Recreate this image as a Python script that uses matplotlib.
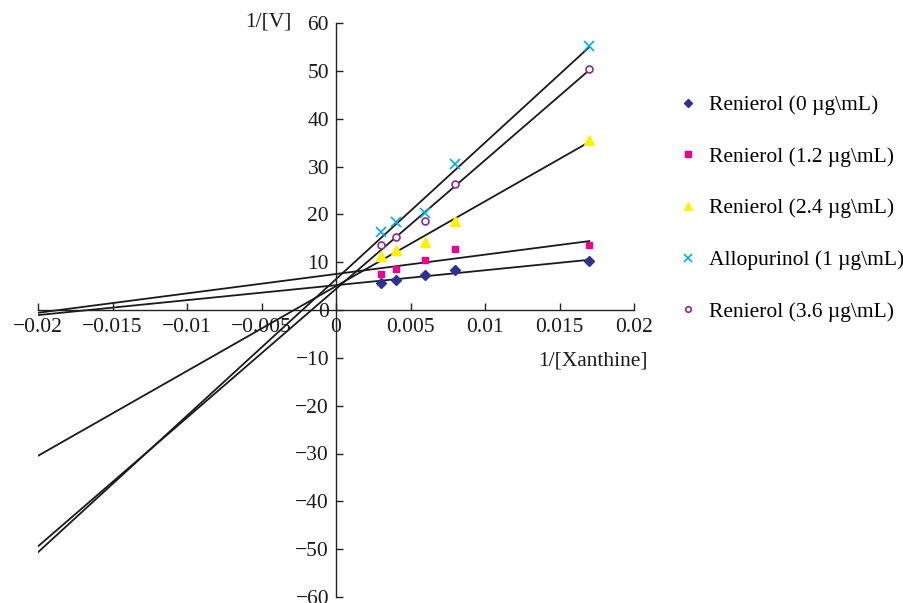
import numpy as np
import matplotlib
matplotlib.use("Agg")
import matplotlib.pyplot as plt
from matplotlib.ticker import FuncFormatter

plt.rcParams['font.family'] = ['Liberation Serif', 'DejaVu Serif']

x_vals = [0.003, 0.004, 0.006, 0.008, 0.017]
series_names = ["Renierol (0 \u00b5g\\mL)", "Renierol (1.2 \u00b5g\\mL)",
                "Renierol (2.4 \u00b5g\\mL)", "Allopurinol (1 \u00b5g\\mL)",
                "Renierol (3.6 \u00b5g\\mL)"]
y_r0 = [5.6, 6.3, 7.3, 8.4, 10.2]
y_r12 = [7.5, 8.6, 10.5, 12.8, 13.6]
y_r24 = [11.3, 12.6, 14.2, 18.6, 35.6]
y_allo = [16.3, 18.4, 20.3, 30.5, 55.2]
y_r36 = [13.6, 15.3, 18.6, 26.4, 50.4]
series = [y_r0, y_r12, y_r24, y_allo, y_r36]

line_x_start = -0.02
line_x_end = 0.017

styles = [
    dict(marker='D', color='#2E3192', markersize=5, mfc='#2E3192', mec='#2E3192'),
    dict(marker='s', color='#EC008C', markersize=5, mfc='#EC008C', mec='#EC008C'),
    dict(marker='^', color='#FFF200', markersize=6.5, mfc='#FFF200', mec='#FFF200'),
    dict(marker='x', color='#00AEEF', markersize=6.5, mfc='#00AEEF', mec='#00AEEF', mew=1.2),
    dict(marker='o', color='#92278F', markersize=5, mfc='white', mec='#92278F', mew=1.2),
]

fig = plt.figure(figsize=(9.04, 6.03), dpi=100)
ax = fig.add_axes([38/904, 1-597/603, (634-38)/904, (597-23)/603])

xs = np.array(x_vals)
handles = []
for name, ys, st in zip(series_names, series, styles):
    h, = ax.plot(xs, ys, linestyle='none', label=name, **st)
    handles.append(h)
    k, b = np.polyfit(xs, np.array(ys), 1)
    lx = np.array([line_x_start, line_x_end])
    ax.plot(lx, k*lx + b, color='#1a1a1a', lw=1.3, zorder=1)

ax.set_xlim(-0.02, 0.02)
ax.set_ylim(-60, 60)
ax.spines['left'].set_position(('data', 0))
ax.spines['bottom'].set_position(('data', 0))
ax.spines['right'].set_visible(False)
ax.spines['top'].set_visible(False)
for s in ('left', 'bottom'):
    ax.spines[s].set_linewidth(1.0)
    ax.spines[s].set_color('#222222')

ax.set_xticks([-0.02, -0.015, -0.01, -0.005, 0, 0.005, 0.01, 0.015, 0.02])
ax.set_yticks(np.arange(-60, 61, 10))
fmt = FuncFormatter(lambda v, p: ('%g' % round(v, 6)).replace('-', '\u2212'))
ax.xaxis.set_major_formatter(fmt)
ax.yaxis.set_major_formatter(fmt)
ax.tick_params(axis='both', direction='in', length=5, width=1.0, labelsize=15.5,
               colors='#222222', labelcolor='#1a1a1a')
ax.tick_params(axis='x', pad=6)
ax.tick_params(axis='y', pad=5)

fig.text(292/904, 1-22/603, "1/[V]", ha='right', va='center', fontsize=15.5, color='#1a1a1a')
fig.text(648/904, 1-361/603, "1/[Xanthine]", ha='right', va='center', fontsize=15.5, color='#1a1a1a')

leg = fig.legend(handles=handles, labels=series_names, loc='upper left',
                 bbox_to_anchor=(679/904, 1-95/603), frameon=False, fontsize=15.5,
                 handlelength=0.8, handletextpad=0.6, labelspacing=1.47,
                 markerscale=0.8, borderaxespad=0, borderpad=0)

fig.savefig("out.png", dpi=100)
